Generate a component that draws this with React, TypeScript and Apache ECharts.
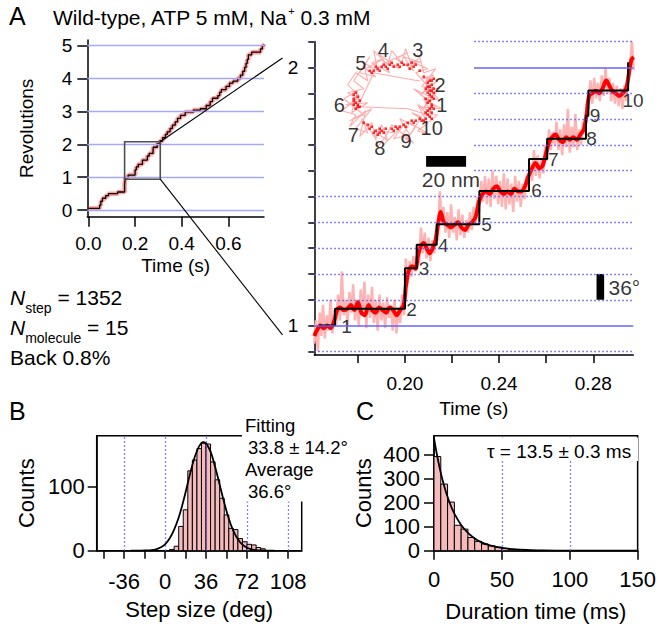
import React, { useEffect, useRef } from 'react';
import * as echarts from 'echarts';

const FONT = '"Liberation Sans", Arial, Helvetica, sans-serif';

// ---------- Panel A, overview trace (time s, revolutions) : dwell starts ----------
const overviewSteps: [number, number][] = [
  [0.000, 0.05], [0.048, 0.15], [0.053, 0.27], [0.060, 0.36], [0.074, 0.44], [0.086, 0.50],
  [0.125, 0.55], [0.155, 0.78], [0.158, 0.98], [0.1703, 1.065], [0.200, 1.222], [0.205, 1.313],
  [0.2135, 1.393], [0.2316, 1.521], [0.2527, 1.645], [0.2604, 1.724], [0.2769, 1.813],
  [0.2779, 1.911], [0.2948, 2.02], [0.306, 2.10], [0.318, 2.20], [0.330, 2.30], [0.338, 2.38],
  [0.350, 2.48], [0.360, 2.58], [0.372, 2.68], [0.382, 2.79], [0.395, 2.88], [0.415, 2.98],
  [0.450, 3.04], [0.480, 3.08], [0.505, 3.18], [0.522, 3.30], [0.532, 3.40], [0.555, 3.48],
  [0.563, 3.58], [0.570, 3.66], [0.590, 3.76], [0.605, 3.86], [0.620, 3.92], [0.640, 4.00],
  [0.652, 4.10], [0.662, 4.22], [0.670, 4.34], [0.676, 4.46], [0.681, 4.58], [0.686, 4.72],
  [0.700, 4.80], [0.728, 4.80], [0.738, 4.90], [0.746, 5.00], [0.752, 5.03],
];
const overviewTimeTicks = [0, 0.2, 0.4, 0.6];
const overviewRevTicks = [0, 1, 2, 3, 4, 5];
const zoomWindow = { t0: 0.155, t1: 0.308, r0: 0.94, r1: 2.08 };
const connectorAnchor = { t: 0.148, rTop: 2.037, rBottom: 0.964 };

// ---------- Panel A, detail ----------
const detailSteps: [number, number][] = [
  [0.1636, 1.0], [0.1703, 1.065], [0.2, 1.222], [0.205, 1.313], [0.2135, 1.393], [0.2316, 1.521],
  [0.2527, 1.645], [0.2604, 1.724], [0.2769, 1.813], [0.2779, 1.911], [0.2948, 2.02],
];
const detailSmooth: [number, number][] = [
  [0.1615, 0.96], [0.1625, 0.98], [0.164, 1.0], [0.1655, 0.99], [0.167, 1.0], [0.1685, 0.99],
  [0.17, 1.02], [0.1712, 1.06], [0.1725, 1.07], [0.174, 1.06], [0.1755, 1.065], [0.177, 1.08],
  [0.1785, 1.06], [0.18, 1.09], [0.1815, 1.05], [0.183, 1.04], [0.1845, 1.08], [0.186, 1.06],
  [0.1875, 1.05], [0.189, 1.07], [0.1905, 1.06], [0.192, 1.05], [0.1935, 1.07], [0.195, 1.06],
  [0.1965, 1.04], [0.198, 1.06], [0.1995, 1.08], [0.2005, 1.16], [0.2015, 1.21], [0.203, 1.23],
  [0.2045, 1.22], [0.2055, 1.27], [0.2068, 1.31], [0.208, 1.32], [0.2092, 1.3], [0.2105, 1.28],
  [0.2118, 1.3], [0.213, 1.33], [0.2142, 1.4], [0.2152, 1.44], [0.2165, 1.4], [0.218, 1.39],
  [0.2195, 1.38], [0.221, 1.39], [0.2225, 1.4], [0.224, 1.38], [0.2255, 1.37], [0.227, 1.39],
  [0.2285, 1.4], [0.23, 1.42], [0.2315, 1.48], [0.233, 1.51], [0.2345, 1.52], [0.236, 1.51],
  [0.2375, 1.53], [0.239, 1.54], [0.2405, 1.52], [0.242, 1.51], [0.2435, 1.52], [0.245, 1.51],
  [0.2465, 1.53], [0.248, 1.52], [0.2495, 1.52], [0.251, 1.54], [0.2525, 1.58], [0.254, 1.61],
  [0.2555, 1.63], [0.257, 1.61], [0.2585, 1.62], [0.26, 1.67], [0.2612, 1.71], [0.2625, 1.73],
  [0.264, 1.74], [0.2655, 1.72], [0.267, 1.71], [0.2685, 1.73], [0.27, 1.72], [0.2715, 1.73],
  [0.273, 1.72], [0.2745, 1.74], [0.276, 1.76], [0.2772, 1.82], [0.2782, 1.89], [0.2795, 1.9],
  [0.281, 1.91], [0.2825, 1.9], [0.284, 1.92], [0.2855, 1.95], [0.2868, 1.93], [0.288, 1.91],
  [0.2895, 1.9], [0.291, 1.89], [0.2925, 1.9], [0.294, 1.92], [0.2952, 1.98], [0.2962, 2.03],
  [0.2972, 2.04],
];
const detailRaw: [number, number][] = [
  [0.1615, 0.93], [0.1622, 1.02], [0.163, 0.9], [0.1638, 1.05], [0.1645, 0.96], [0.1652, 1.08],
  [0.166, 0.95], [0.1668, 1.04], [0.1676, 0.98], [0.1684, 1.1], [0.1692, 0.97], [0.17, 1.06],
  [0.1708, 1.0], [0.1716, 1.12], [0.1724, 1.02], [0.1732, 1.21], [0.174, 1.04], [0.1748, 1.1],
  [0.1756, 1.0], [0.1764, 1.13], [0.1772, 1.05], [0.178, 1.16], [0.1788, 1.02], [0.1796, 1.1],
  [0.1804, 1.0], [0.1812, 1.14], [0.182, 1.04], [0.1828, 1.17], [0.1836, 0.99], [0.1844, 1.12],
  [0.1852, 1.03], [0.186, 1.15], [0.1868, 1.01], [0.1876, 1.1], [0.1884, 0.98], [0.1892, 1.12],
  [0.19, 1.02], [0.1908, 1.09], [0.1916, 0.99], [0.1924, 1.11], [0.1932, 1.03], [0.194, 1.08],
  [0.1948, 0.98], [0.1956, 1.1], [0.1964, 0.97], [0.1972, 1.07], [0.198, 1.01], [0.1988, 1.12],
  [0.1996, 1.04], [0.2004, 1.26], [0.2012, 1.16], [0.202, 1.25], [0.2028, 1.19], [0.2036, 1.27],
  [0.2044, 1.21], [0.2052, 1.3], [0.206, 1.24], [0.2068, 1.38], [0.2076, 1.28], [0.2084, 1.36],
  [0.2092, 1.26], [0.21, 1.34], [0.2108, 1.25], [0.2116, 1.33], [0.2124, 1.28], [0.2132, 1.37],
  [0.214, 1.33], [0.2148, 1.52], [0.2156, 1.4], [0.2164, 1.46], [0.2172, 1.36], [0.218, 1.44],
  [0.2188, 1.34], [0.2196, 1.47], [0.2204, 1.36], [0.2212, 1.42], [0.222, 1.33], [0.2228, 1.45],
  [0.2236, 1.35], [0.2244, 1.43], [0.2252, 1.34], [0.226, 1.41], [0.2268, 1.36], [0.2276, 1.44],
  [0.2284, 1.37], [0.2292, 1.46], [0.23, 1.39], [0.2308, 1.5], [0.2316, 1.44], [0.2324, 1.56],
  [0.2332, 1.48], [0.234, 1.58], [0.2348, 1.47], [0.2356, 1.57], [0.2364, 1.46], [0.2372, 1.6],
  [0.238, 1.49], [0.2388, 1.58], [0.2396, 1.47], [0.2404, 1.56], [0.2412, 1.46], [0.242, 1.59],
  [0.2428, 1.45], [0.2436, 1.57], [0.2444, 1.47], [0.2452, 1.55], [0.246, 1.44], [0.2468, 1.58],
  [0.2476, 1.48], [0.2484, 1.56], [0.2492, 1.46], [0.25, 1.55], [0.2508, 1.49], [0.2516, 1.58],
  [0.2524, 1.52], [0.2532, 1.63], [0.254, 1.56], [0.2548, 1.68], [0.2556, 1.58], [0.2564, 1.66],
  [0.2572, 1.57], [0.258, 1.65], [0.2588, 1.59], [0.2596, 1.7], [0.2604, 1.64], [0.2612, 1.76],
  [0.262, 1.68], [0.2628, 1.75], [0.2636, 1.7], [0.2644, 1.79], [0.2652, 1.68], [0.266, 1.76],
  [0.2668, 1.66], [0.2676, 1.78], [0.2684, 1.69], [0.2692, 1.84], [0.27, 1.67], [0.2708, 1.77],
  [0.2716, 1.69], [0.2724, 1.82], [0.2732, 1.68], [0.274, 1.76], [0.2748, 1.7], [0.2756, 1.79],
  [0.2764, 1.74], [0.2772, 1.86], [0.278, 1.87], [0.2788, 1.95], [0.2796, 1.86], [0.2804, 1.96],
  [0.2812, 1.88], [0.282, 1.94], [0.2828, 1.87], [0.2836, 1.97], [0.2844, 1.89], [0.2852, 2.0],
  [0.286, 1.9], [0.2868, 1.96], [0.2876, 1.87], [0.2884, 1.94], [0.2892, 1.86], [0.29, 1.93],
  [0.2908, 1.85], [0.2916, 1.92], [0.2924, 1.84], [0.2932, 1.93], [0.294, 1.87], [0.2948, 1.96],
  [0.2956, 2.01], [0.2964, 2.1], [0.2972, 1.99],
];
const detailTimeTicks = [0.18, 0.2, 0.22, 0.24, 0.26, 0.28];
const detailTimeLabels = [0.2, 0.24, 0.28];
const detailRevTicks = [0.9, 1.0, 1.1, 1.2, 1.3, 1.4, 1.5, 1.6, 1.7, 1.8, 1.9, 2.0, 2.1];
const detailRevLabels = [1, 2];
const detailSolidLevels = [1, 2];
const detailDottedLevels = [0.9, 1.1, 1.2, 1.3, 1.4, 1.5, 1.6, 1.7, 1.8, 1.9, 2.1];
const stepLabels: [number, number, string][] = [
  [0.1752, 0.996, '1'], [0.2028, 1.061, '2'], [0.2081, 1.222, '3'], [0.2163, 1.309, '4'],
  [0.2347, 1.39, '5'], [0.2559, 1.522, '6'], [0.263, 1.642, '7'], [0.2793, 1.726, '8'],
  [0.2807, 1.813, '9'], [0.2969, 1.872, '10'],
];
const angleBar: [number, number][] = [[0.283, 1.1], [0.283, 1.2]];
const angleBarLabel: [number, number, string] = [0.2932, 1.149, '36°'];

// ---------- Inset: x-y trajectory (nm) ----------
const insetTrace: [number, number][] = [
  [19, -3], [22, 2], [16, -6], [21, 5], [14, 1], [23, 8], [17, 10], [20, 3], [12, 12], [18, 14],
  [9, 18], [15, 17], [6, 20], [11, 13], [2, 19], [8, 22], [-3, 17], [4, 14], [-6, 21], [-1, 12],
  [-10, 17], [-4, 19], [-13, 14], [-8, 10], [-16, 12], [-11, 20], [-19, 8], [-14, 4], [-22, 2],
  [-15, -2], [-23, -4], [-12, -3], [-20, -8], [-17, 3], [-24, -1], [-14, -9], [-21, -12],
  [-10, -6], [-18, -16], [-12, -18], [-15, -11], [-8, -21], [-5, -14], [-2, -22], [-9, -17],
  [2, -18], [-4, -24], [6, -14], [1, -21], [9, -19], [4, -11], [12, -15], [7, -22], [15, -10],
  [10, -8], [18, -13], [13, -4], [20, -8], [16, -1], [22, -5], [11, 4], [19, 0], [24, -2],
  [17, 6], [21, 11], [13, 8], [-9, 12], [-17, -5], [8, -6], [18, -9],
  [20, -6], [15, -9], [23, -9], [17, -14], [13, -17], [19, -19], [9, -13], [5, -20], [11, -23],
  [0, -14], [-3, -20], [-7, -25], [-10, -13], [-16, -20], [-13, -7], [-21, -15], [-18, -9],
  [-25, -7], [-16, 0], [-22, 6], [-18, 12], [-12, 8], [-14, 17], [-7, 13], [-9, 23], [-2, 16],
  [0, 23], [5, 17], [7, 24], [10, 15], [14, 20], [16, 12], [22, 14], [15, 5], [24, 4], [17, -2],
  [25, -6], [14, -5], [21, -12],
];
const insetDwells: [number, number][] = [
  [19, -10], [20, -8], [18, -9], [19, -6], [20, -4], [18, -3], [19, -2], [21, -1], [20, 0],
  [19, 1], [18, 2], [20, 3], [21, 4], [19, 5], [20, 6], [18, 7], [19, 8], [21, 9], [17, -11],
  [16, -12], [18, -7], [20, -5], [19, 3], [18, 5],
  [11, 15], [12, 16], [10, 17], [8, 16], [6, 16], [3, 16], [1, 15], [-1, 16], [-3, 15],
  [-5, 15], [-7, 14], [-9, 13], [-10, 12], [-8, 15], [-2, 14], [4, 15],
  [-18, 2], [-17, 0], [-19, -1], [-18, -3], [-17, -4], [-18, -6], [-16, -2], [-19, 1], [-17, -5],
  [-14, -13], [-12, -14], [-10, -15], [-8, -17], [-6, -18], [-5, -17], [-3, -16], [-7, -19],
  [-4, -18], [0, -16], [2, -15], [4, -15], [6, -14], [8, -13], [10, -12], [12, -12], [14, -11],
  [20, -11], [17, -8], [21, -6], [17, -1], [21, 2], [17, 4], [20, 8], [16, 10], [14, 13], [9, 14],
  [5, 17], [0, 17], [-4, 16], [-6, 13], [-11, 13], [-19, -2], [-16, -5], [-19, -4], [-11, -16],
  [-9, -18], [-6, -16], [1, -17], [3, -16], [7, -15], [11, -13], [15, -12],
];
const insetLabels: [number, number, string][] = [
  [25, -4.2, '1'], [24.2, 5.9, '2'], [13, 23.4, '3'], [-4.2, 23.4, '4'], [-15.4, 16.7, '5'],
  [-26.2, -4.2, '6'], [-19.2, -19.2, '7'], [-5.9, -25.8, '8'], [7.2, -22.2, '9'], [20, -15.8, '10'],
];
const insetScaleBar: [number, number][] = [[17.2, -32.3], [37.2, -32.3]];
const insetScaleLabel: [number, number, string] = [29.6, -41.6, '20 nm'];

// ---------- Panel B: step size histogram ----------
const STEP_BIN = 4;
const stepBinStarts = [4, 8, 12, 16, 20, 24, 28, 32, 36, 40, 44, 48, 52, 56, 60, 64, 68, 72, 76, 80, 84];
const stepCounts = [2, 7, 38, 64, 125, 142, 160, 168, 167, 139, 111, 82, 56, 35, 33, 19, 14, 10, 9, 5, 3];
const stepFitX = [-30, -24, -16, -12, -8, -4, 0, 4, 8, 12, 16, 20, 24, 28, 32, 34, 36, 40, 44, 48, 52, 56, 60, 64, 68, 72, 76, 80, 84, 90, 96];
const stepFitY = [0, 0, 0.4, 0.9, 2.2, 4.9, 10, 19, 33, 52, 77, 106, 134, 156, 169, 170, 168, 155, 131, 103, 75, 50, 31, 18, 9.4, 4.6, 2.1, 0.9, 0.3, 0.1, 0];
const stepTicks = [-54, -36, -18, 0, 18, 36, 54, 72, 90, 108];
const stepLabelVals = [-36, 0, 36, 72, 108];
const stepGuides = [-36, 0, 36, 72, 108];
const stepCountTicks = [0, 100];

// ---------- Panel C: dwell duration histogram ----------
const DUR_BIN = 5;
const durBinStarts = [0, 5, 10, 15, 20, 25, 30, 35, 40, 45, 50, 55, 60, 65, 70, 75];
const durCounts = [393, 278, 203, 106, 90, 55, 39, 28, 20, 15, 9, 6, 4, 3, 2, 1];
const durFitX = [0, 2.5, 5, 7.5, 10, 12.5, 15, 20, 25, 30, 35, 40, 45, 50, 60, 70, 80, 100, 125, 150];
const durFitY = [470, 391, 325, 270, 224, 186, 155, 107, 74, 51, 35, 24, 17, 12, 5.5, 2.6, 1.3, 0.3, 0, 0];
const durTicks = [0, 50, 100, 150];
const durGuides = [50, 100];
const durCountTicks = [0, 100, 200, 300, 400];

// ---------- helpers ----------
const GUIDE_BLUE = '#5c5cff';
const axisLine = { show: true, onZero: false, lineStyle: { color: '#000', width: 1.5 } };
const tick = (len: number, values: number[]) => ({
  show: true, inside: false, length: len, customValues: values,
  lineStyle: { color: '#000', width: 1.5 },
});
const lbl = (size: number, margin: number, values: number[], fmt: (v: number) => string) => ({
  show: true, fontSize: size, color: '#000', fontFamily: FONT, margin, customValues: values,
  formatter: fmt, hideOverlap: false,
});
const nameStyle = (size: number) => ({ fontSize: size, color: '#000', fontFamily: FONT });
const fmtInt = (v: number) => String(Math.round(v));

const histRender = (fill: string) => (params: any, api: any) => {
  const a = api.coord([api.value(0), api.value(2)]);
  const b = api.coord([api.value(1), 0]);
  return {
    type: 'rect',
    shape: { x: a[0], y: a[1], width: b[0] - a[0], height: b[1] - a[1] },
    style: { fill, stroke: '#000', lineWidth: 1 },
  };
};

const labelScatter = (xi: number, items: [number, number, string][], size: number, z: number) => ({
  type: 'scatter', xAxisIndex: xi, yAxisIndex: xi, z, clip: false, symbolSize: 0, silent: true,
  data: items.map((d) => ({ value: [d[0], d[1]], name: d[2] })),
  label: { show: true, position: 'inside', formatter: '{b}', fontSize: size, color: '#000', fontFamily: FONT },
});

function buildOption(): any {
  return {
    animation: false,
    backgroundColor: '#fff',
    textStyle: { fontFamily: FONT },
    grid: [
      { left: 87.3, top: 40, width: 176.7, height: 176.7 },
      { left: 314.3, top: 41.7, width: 319, height: 313.3 },
      { left: 331.7, top: 40.7, width: 140, height: 136 },
      { left: 96.7, top: 435.7, width: 205, height: 115, show: true, borderColor: '#000', borderWidth: 1.5 },
      { left: 434, top: 435.7, width: 206, height: 115, show: true, borderColor: '#000', borderWidth: 1.5 },
    ],
    xAxis: [
      {
        type: 'value', gridIndex: 0, min: -0.005, max: 0.753, axisLine,
        axisTick: tick(10, overviewTimeTicks), axisLabel: lbl(19, 17, overviewTimeTicks, (v) => v.toFixed(1)),
        splitLine: { show: false }, name: 'Time (s)', nameLocation: 'middle', nameGap: 39, nameTextStyle: nameStyle(19),
      },
      {
        type: 'value', gridIndex: 1, min: 0.1615, max: 0.297, axisLine,
        axisTick: tick(8, detailTimeTicks), axisLabel: lbl(19, 19, detailTimeLabels, (v) => v.toFixed(2)),
        splitLine: { show: false }, name: 'Time (s)', nameLocation: 'middle', nameGap: 44, nameTextStyle: nameStyle(19),
      },
      { type: 'value', gridIndex: 2, min: -30, max: 40, show: false, splitLine: { show: false } },
      {
        type: 'value', gridIndex: 3, min: -60, max: 120, axisLine,
        axisTick: tick(8, stepTicks), axisLabel: lbl(22, 20, stepLabelVals, fmtInt),
        splitLine: { show: false }, name: 'Step size (deg)', nameLocation: 'middle', nameGap: 48, nameTextStyle: nameStyle(22),
      },
      {
        type: 'value', gridIndex: 4, min: 0, max: 150, axisLine,
        axisTick: tick(9, durTicks), axisLabel: lbl(22, 18, durTicks, fmtInt),
        splitLine: { show: false }, name: 'Duration time (ms)', nameLocation: 'middle', nameGap: 50, nameTextStyle: nameStyle(22),
      },
    ],
    yAxis: [
      {
        type: 'value', gridIndex: 0, min: -0.2, max: 5.17, axisLine,
        axisTick: tick(10, overviewRevTicks), axisLabel: lbl(19, 15, overviewRevTicks, fmtInt),
        splitLine: { show: false }, name: 'Revolutions', nameLocation: 'middle', nameGap: 51, nameTextStyle: nameStyle(19),
      },
      {
        type: 'value', gridIndex: 1, min: 0.886, max: 2.1, axisLine,
        axisTick: tick(6, detailRevTicks), axisLabel: lbl(19, 16, detailRevLabels, fmtInt),
        splitLine: { show: false },
      },
      { type: 'value', gridIndex: 2, min: -40, max: 28, show: false, splitLine: { show: false } },
      {
        type: 'value', gridIndex: 3, min: 0, max: 180, axisLine,
        axisTick: tick(9, stepCountTicks), axisLabel: lbl(22, 12, stepCountTicks, fmtInt),
        splitLine: { show: false }, name: 'Counts', nameLocation: 'middle', nameGap: 59, nameTextStyle: nameStyle(22),
      },
      {
        type: 'value', gridIndex: 4, min: 0, max: 480, axisLine,
        axisTick: tick(10, durCountTicks), axisLabel: lbl(22, 14, durCountTicks, fmtInt),
        splitLine: { show: false }, name: 'Counts', nameLocation: 'middle', nameGap: 60, nameTextStyle: nameStyle(22),
      },
    ],
    series: [
      // Panel A overview
      {
        type: 'line', xAxisIndex: 0, yAxisIndex: 0, data: [], z: 1, silent: true,
        markLine: {
          silent: true, symbol: ['none', 'none'], label: { show: false },
          lineStyle: { color: '#a6a6ff', width: 1.3, type: 'solid' },
          data: overviewRevTicks.map((v) => ({ yAxis: v })),
        },
      },
      {
        type: 'line', xAxisIndex: 0, yAxisIndex: 0, data: overviewSteps, step: 'end', symbol: 'none', z: 2,
        lineStyle: { color: 'rgba(255,60,60,0.5)', width: 4.5 }, silent: true,
      },
      {
        type: 'line', xAxisIndex: 0, yAxisIndex: 0, data: overviewSteps, step: 'end', symbol: 'none', z: 3,
        lineStyle: { color: '#000', width: 1.3 }, silent: true,
      },
      // Panel A detail
      {
        type: 'line', xAxisIndex: 1, yAxisIndex: 1, data: [], z: 1, silent: true,
        markLine: {
          silent: true, symbol: ['none', 'none'], label: { show: false },
          data: [
            ...detailSolidLevels.map((v) => ({ yAxis: v, lineStyle: { color: '#6464ff', width: 1.6, type: 'solid' } })),
            ...detailDottedLevels.map((v) => ({ yAxis: v, lineStyle: { color: GUIDE_BLUE, width: 1.3, type: [1.5, 2.5] } })),
          ],
        },
      },
      {
        type: 'line', xAxisIndex: 1, yAxisIndex: 1, data: detailRaw, symbol: 'none', z: 2, silent: true,
        lineStyle: { color: '#ffb4b4', width: 2.5 },
      },
      {
        type: 'line', xAxisIndex: 1, yAxisIndex: 1, data: detailSmooth, symbol: 'none', z: 3, silent: true,
        smooth: 0.3, lineStyle: { color: '#ff0000', width: 4 },
      },
      {
        type: 'line', xAxisIndex: 1, yAxisIndex: 1, data: detailSteps, step: 'end', symbol: 'none', z: 4,
        silent: true, lineStyle: { color: '#000', width: 2 },
      },
      labelScatter(1, stepLabels, 19, 4),
      {
        type: 'line', xAxisIndex: 1, yAxisIndex: 1, data: angleBar, symbol: 'none', z: 4, silent: true,
        lineStyle: { color: '#000', width: 7.6, cap: 'butt' },
      },
      labelScatter(1, [angleBarLabel], 21, 4),
      // Inset
      {
        type: 'line', xAxisIndex: 2, yAxisIndex: 2, data: insetTrace, symbol: 'none', z: 10, silent: true,
        clip: false, lineStyle: { color: 'rgba(255,150,150,0.8)', width: 1.1 },
      },
      {
        type: 'scatter', xAxisIndex: 2, yAxisIndex: 2, data: insetDwells, symbol: 'rect', symbolSize: 2.6,
        z: 11, silent: true, clip: false, itemStyle: { color: '#ff0000' },
      },
      labelScatter(2, insetLabels, 20, 11),
      {
        type: 'line', xAxisIndex: 2, yAxisIndex: 2, data: insetScaleBar, symbol: 'none', z: 11, silent: true,
        clip: false, lineStyle: { color: '#000', width: 10.7, cap: 'butt' },
      },
      labelScatter(2, [insetScaleLabel], 21, 11),
      // Panel B
      {
        type: 'line', xAxisIndex: 3, yAxisIndex: 3, data: [], z: 1, silent: true,
        markLine: {
          silent: true, symbol: ['none', 'none'], label: { show: false },
          lineStyle: { color: GUIDE_BLUE, width: 1.3, type: [1.5, 2.5] },
          data: stepGuides.map((v) => ({ xAxis: v })),
        },
      },
      {
        type: 'custom', xAxisIndex: 3, yAxisIndex: 3, z: 2, silent: true,
        data: stepBinStarts.map((s, i) => [s, s + STEP_BIN, stepCounts[i]]),
        encode: { x: [0, 1], y: 2 },
        renderItem: histRender('#f6baba'),
      },
      {
        type: 'line', xAxisIndex: 3, yAxisIndex: 3, z: 3, silent: true, symbol: 'none', smooth: 0.4,
        data: stepFitX.map((x, i) => [x, stepFitY[i]]), lineStyle: { color: '#000', width: 1.8 },
      },
      // Panel C
      {
        type: 'line', xAxisIndex: 4, yAxisIndex: 4, data: [], z: 1, silent: true,
        markLine: {
          silent: true, symbol: ['none', 'none'], label: { show: false },
          lineStyle: { color: GUIDE_BLUE, width: 1.3, type: [1.5, 2.5] },
          data: durGuides.map((v) => ({ xAxis: v })),
        },
      },
      {
        type: 'custom', xAxisIndex: 4, yAxisIndex: 4, z: 2, silent: true,
        data: durBinStarts.map((s, i) => [s, s + DUR_BIN, durCounts[i]]),
        encode: { x: [0, 1], y: 2 },
        renderItem: histRender('#f6baba'),
      },
      {
        type: 'line', xAxisIndex: 4, yAxisIndex: 4, z: 3, silent: true, symbol: 'none', smooth: 0.4,
        data: durFitX.map((x, i) => [x, durFitY[i]]), lineStyle: { color: '#000', width: 1.8 },
      },
    ],
  };
}

function txt(id: string, x: number, y: number, text: string, size: number, extra: any = {}) {
  return {
    type: 'text', id, x, y, z: 6, silent: true,
    style: { text, fontSize: size, fontFamily: FONT, fill: '#000', verticalAlign: 'middle', align: 'left', ...extra },
  };
}

function buildGraphics(chart: any): any[] {
  const px = (gi: number, pt: number[]) => chart.convertToPixel({ gridIndex: gi }, pt) as number[];
  const tl = px(0, [zoomWindow.t0, zoomWindow.r1]);
  const br = px(0, [zoomWindow.t1, zoomWindow.r0]);
  const cTop = px(1, [connectorAnchor.t, connectorAnchor.rTop]);
  const cBot = px(1, [connectorAnchor.t, connectorAnchor.rBottom]);
  const sub = { fontSize: 14, fontFamily: FONT, fill: '#000', lineHeight: 14, verticalAlign: 'bottom' };
  const big = { fontSize: 21, fontFamily: FONT, fill: '#000', lineHeight: 36 };
  return [
    { type: 'rect', id: 'insetBg', z: 5, silent: true, shape: { x: 316, y: 36, width: 158, height: 152 }, style: { fill: '#fff' } },
    { type: 'rect', id: 'bBg', z: 5, silent: true, shape: { x: 242, y: 412, width: 100, height: 89.5 }, style: { fill: '#fff' } },
    { type: 'rect', id: 'cBg', z: 5, silent: true, shape: { x: 484, y: 437.5, width: 154, height: 23.5 }, style: { fill: '#fff' } },
    {
      type: 'rect', id: 'zoomBox', z: 6, silent: true,
      shape: { x: tl[0], y: tl[1], width: br[0] - tl[0], height: br[1] - tl[1] },
      style: { fill: 'none', stroke: '#505050', lineWidth: 1.6 },
    },
    { type: 'line', id: 'conn1', z: 6, silent: true, shape: { x1: br[0], y1: tl[1], x2: cTop[0], y2: cTop[1] }, style: { stroke: '#000', lineWidth: 1.1 } },
    { type: 'line', id: 'conn2', z: 6, silent: true, shape: { x1: br[0], y1: br[1], x2: cBot[0], y2: cBot[1] }, style: { stroke: '#000', lineWidth: 1.1 } },
    txt('lA', 9, 16, 'A', 25),
    txt('lB', 9, 411, 'B', 25),
    txt('lC', 356, 411, 'C', 25),
    {
      type: 'text', id: 'title', x: 53, y: 17, z: 6, silent: true,
      style: {
        text: '{t|Wild-type, ATP 5 mM, Na}{s|+}{t| 0.3 mM}', verticalAlign: 'middle', align: 'left',
        rich: {
          t: { fontSize: 21, fontFamily: FONT, fill: '#000', lineHeight: 24 },
          s: { fontSize: 11, fontFamily: FONT, fill: '#000', lineHeight: 11, verticalAlign: 'top' },
        },
      },
    },
    {
      type: 'text', id: 'nstep', x: 10, y: 297, z: 6, silent: true,
      style: {
        text: '{n|N}{s|step}{r| = 1352}', verticalAlign: 'middle', align: 'left',
        rich: { n: { ...big, fontStyle: 'italic' }, s: sub, r: big },
      },
    },
    {
      type: 'text', id: 'nmol', x: 10, y: 327, z: 6, silent: true,
      style: {
        text: '{n|N}{s|molecule}{r| = 15}', verticalAlign: 'middle', align: 'left',
        rich: { n: { ...big, fontStyle: 'italic' }, s: sub, r: big },
      },
    },
    txt('back', 10, 357, 'Back 0.8%', 21),
    txt('fit1', 245, 425, 'Fitting', 18.5),
    txt('fit2', 248, 447, '33.8 ± 14.2°', 18.5),
    txt('avg1', 245, 469, 'Average', 18.5),
    txt('avg2', 248, 491, '36.6°', 18.5),
    txt('tau', 487, 451, 'τ = 13.5 ± 0.3 ms', 19),
  ];
}

export default function App() {
  const ref = useRef<HTMLDivElement>(null);
  useEffect(() => {
    if (!ref.current) return;
    const chart = echarts.init(ref.current, null, { renderer: 'svg' });
    chart.setOption(buildOption());
    chart.setOption({ graphic: buildGraphics(chart) });
    return () => chart.dispose();
  }, []);
  return (
    <div
      ref={ref}
      style={{ position: 'fixed', left: 0, top: 0, width: 659, height: 626, background: '#fff' }}
    />
  );
}
